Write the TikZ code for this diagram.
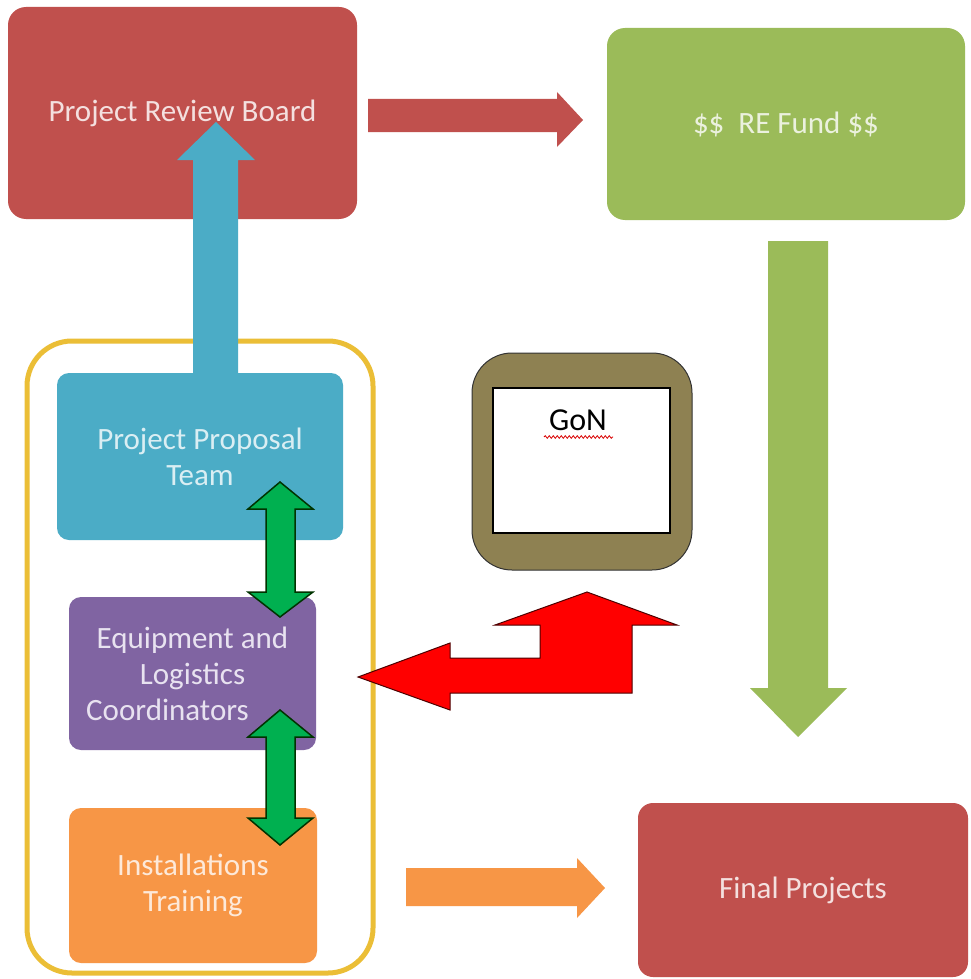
\documentclass[tikz,border=0pt]{standalone}
\usepackage{fontspec}
\setmainfont{Carlito}
\usetikzlibrary{decorations.pathmorphing}
\definecolor{boxred}{HTML}{C0504D}
\definecolor{boxgreen}{HTML}{9BBB59}
\definecolor{boxblue}{HTML}{4BACC6}
\definecolor{boxpurple}{HTML}{8064A2}
\definecolor{boxorange}{HTML}{F79646}
\definecolor{frameyellow}{HTML}{EBBE36}
\definecolor{olive}{HTML}{8E8152}
\definecolor{dblgreen}{HTML}{00B050}
\definecolor{txtred}{HTML}{F4E0DF}
\definecolor{txtgreen}{HTML}{EBF1DE}
\definecolor{txtblue}{HTML}{DAEEF3}
\definecolor{txtpurple}{HTML}{E8E2F0}
\definecolor{txtorange}{HTML}{FDE9D9}
\begin{document}
\begin{tikzpicture}[x=1pt,y=-1pt,
  box/.style={rectangle,inner sep=0pt,align=center,font=\fontsize{31}{36}\selectfont},
  blockarrow/.style={draw=none},
  dblarrow/.style={fill=dblgreen,draw=black!80!green,line width=1.5pt,line join=miter},
  redarrow/.style={fill=red,draw=black!70!red,line width=1pt,line join=miter}]
\useasboundingbox[fill=white] (0,0) rectangle (970,979);

% top boxes
\node[box,fill=boxred,text=txtred,rounded corners=18pt,minimum width=349pt,minimum height=212pt] (prb) at (182.5,113) {Project Review Board};
\node[box,fill=boxgreen,text=txtgreen,rounded corners=18pt,minimum width=358pt,minimum height=192pt] (fund) at (786,124) {\$\$\ \ RE Fund \$\$};

% red arrow PRB -> Fund
\fill[boxred] (368,99) -- (557,99) -- (557,92) -- (583,120) -- (557,147) -- (557,132) -- (368,132) -- cycle;

% green arrow Fund -> Final
\fill[boxgreen] (768,241) -- (828,241) -- (828,688) -- (847,688) -- (798,737) -- (750,688) -- (768,688) -- cycle;

% yellow frame
\draw[frameyellow,line width=5pt,rounded corners=45pt] (27,341) rectangle (373,973);

% blue arrow Proposal -> PRB
\fill[boxblue] (193,380) -- (193,160) -- (177,160) -- (216,122) -- (255,160) -- (238,160) -- (238,380) -- cycle;

% left boxes
\node[box,fill=boxblue,text=txtblue,rounded corners=12pt,minimum width=286pt,minimum height=167pt] (ppt) at (200,456.5) {Project Proposal\\Team};
\node[box,fill=boxpurple,text=txtpurple,rounded corners=12pt,minimum width=247pt,minimum height=153pt] (elc) at (192.5,673.5) {Equipment and\\Logistics\\Coordinators\hbox to 50pt{}};
\node[box,fill=boxorange,text=txtorange,rounded corners=12pt,minimum width=248pt,minimum height=155pt] (inst) at (193,885.5) {Installations\\Training};

% green double arrows
\draw[dblarrow] (280,482) -- (313,509) -- (295,509) -- (295,592) -- (313,592) -- (280,617) -- (248,592) -- (266,592) -- (266,509) -- (248,509) -- cycle;
\draw[dblarrow] (280,710) -- (313,737) -- (295,737) -- (295,818) -- (313,818) -- (280,845) -- (248,818) -- (266,818) -- (266,737) -- (248,737) -- cycle;

% GoN
\node[rectangle,fill=olive,draw=black!80,line width=1pt,rounded corners=40pt,minimum width=220pt,minimum height=217pt,inner sep=0pt] (gon) at (582,461.5) {};
\node[rectangle,fill=white,draw=black,line width=1.5pt,minimum width=177pt,minimum height=145pt,inner sep=0pt] (goninner) at (581.5,460.5) {};
\node[font=\fontsize{32}{36}\selectfont,text=black,inner sep=0pt] (gontext) at (578,420) {GoN};
\draw[red!85!black,line width=0.8pt,decorate,decoration={snake,amplitude=1.3pt,segment length=4pt}] (544,437) -- (613,437);

% red bent arrow
\draw[redarrow] (358,677) -- (450,643) -- (450,658) -- (540,658) -- (540,625) -- (495,625) -- (587,592) -- (677,625) -- (632,625) -- (632,693) -- (450,693) -- (450,710) -- cycle;

% orange arrow
\fill[boxorange] (406,868) -- (577,868) -- (577,858) -- (605,888) -- (577,918) -- (577,906) -- (406,906) -- cycle;

% final box
\node[box,fill=boxred,text=txtred,rounded corners=15pt,minimum width=330pt,minimum height=174pt] (final) at (803,890) {Final Projects};
\end{tikzpicture}
\end{document}
